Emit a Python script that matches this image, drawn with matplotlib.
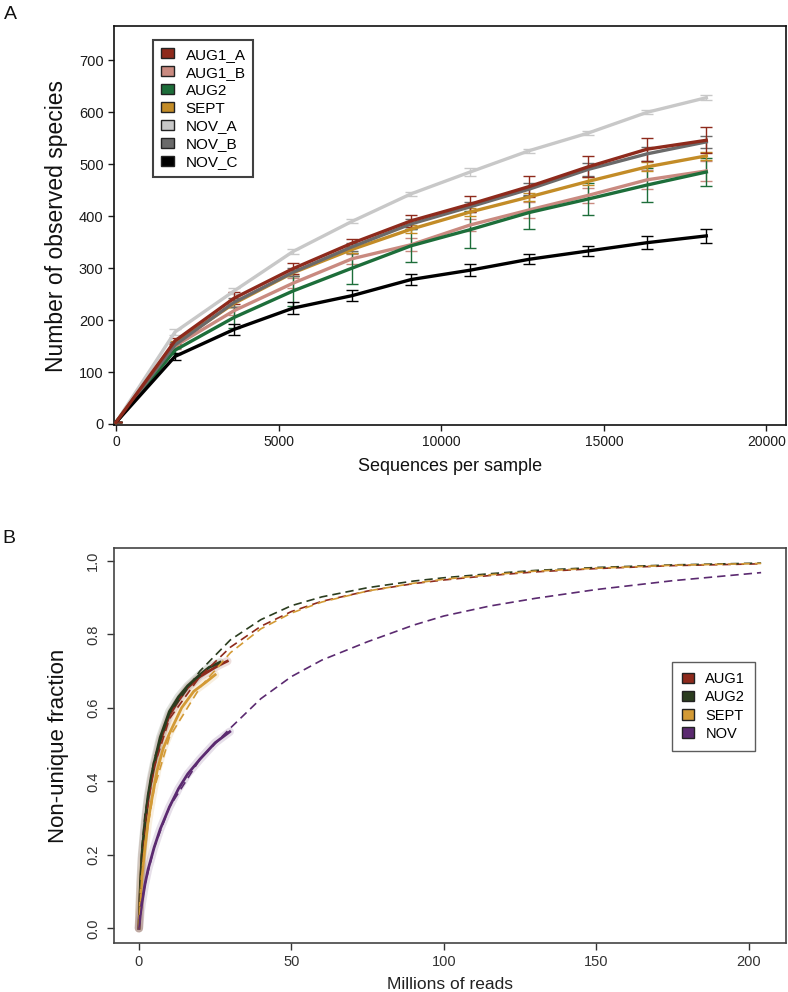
import matplotlib
matplotlib.use("Agg")
import matplotlib.pyplot as plt
from matplotlib.patches import Patch

plt.rcParams['font.family'] = ['Liberation Sans', 'DejaVu Sans']

# ---------------- Panel A data ----------------
depth = [0, 1815, 3630, 5445, 7260, 9075, 10890, 12705, 14520, 16335, 18150]
series_names = ['AUG1_A', 'AUG1_B', 'AUG2', 'SEPT', 'NOV_A', 'NOV_B', 'NOV_C']
series_colors = ['#8e2a1c', '#c98a80', '#1d6e3a', '#c38c27', '#c8c8c8', '#6a6a6a', '#000000']

aug1_a = [3, 160, 242, 299, 348, 391, 423, 457, 495, 529, 546]
aug1_b = [3, 150, 218, 271, 318, 345, 383, 412, 440, 470, 487]
aug2 = [3, 142, 205, 256, 300, 343, 374, 407, 433, 460, 485]
sept = [3, 155, 232, 291, 336, 375, 408, 437, 467, 495, 516]
nov_a = [3, 177, 256, 332, 390, 443, 485, 526, 560, 600, 628]
nov_b = [3, 152, 234, 292, 341, 385, 418, 452, 490, 520, 543]
nov_c = [3, 130, 182, 223, 247, 278, 296, 317, 333, 349, 362]

err_aug1_a = [0, 6, 12, 10, 8, 12, 15, 20, 20, 22, 25]
err_aug1_b = [0, 6, 8, 10, 10, 12, 12, 15, 15, 18, 20]
err_aug2 = [0, 8, 20, 28, 30, 32, 35, 32, 30, 32, 27]
err_sept = [0, 5, 6, 6, 7, 8, 8, 8, 8, 9, 8]
err_nov_a = [0, 5, 5, 5, 4, 4, 8, 4, 4, 4, 5]
err_nov_b = [0, 6, 8, 8, 8, 10, 10, 12, 12, 14, 12]
err_nov_c = [0, 6, 10, 12, 10, 10, 12, 10, 10, 13, 13]

# ---------------- Panel B data ----------------
groups = ['AUG1', 'AUG2', 'SEPT', 'NOV']
group_colors = ['#8e2a1c', '#2b3d1f', '#d39a35', '#5b2a70']

# observed (solid) curves
obs_aug1_x = [0, 0.5, 1, 2, 3, 4, 5, 7, 10, 13, 16, 20, 23, 26, 29]
obs_aug1_y = [0, 0.11, 0.19, 0.28, 0.35, 0.40, 0.44, 0.51, 0.58, 0.62, 0.655, 0.685, 0.70, 0.715, 0.727]
obs_aug2_x = [0, 0.5, 1, 2, 3, 4, 5, 7, 10, 13, 16, 20, 23, 26.6]
obs_aug2_y = [0, 0.12, 0.20, 0.29, 0.36, 0.41, 0.45, 0.52, 0.59, 0.63, 0.66, 0.69, 0.71, 0.724]
obs_sept_x = [0, 0.5, 1, 2, 3, 4, 6, 8, 10, 14, 18, 22, 25]
obs_sept_y = [0, 0.08, 0.14, 0.22, 0.29, 0.34, 0.43, 0.49, 0.53, 0.60, 0.645, 0.67, 0.69]
obs_nov_x = [0, 0.5, 1, 2, 3, 5, 7, 10, 13, 16, 20, 25, 29.8]
obs_nov_y = [0, 0.04, 0.07, 0.12, 0.16, 0.22, 0.27, 0.33, 0.38, 0.42, 0.46, 0.505, 0.535]

# extrapolated (dashed) curves
ext_x = [0, 1, 2, 5, 10, 20, 30, 40, 50, 60, 75, 90, 100, 115, 130, 150, 175, 204]
ext_aug1 = [0, 0.20, 0.29, 0.44, 0.57, 0.685, 0.765, 0.822, 0.862, 0.89, 0.918, 0.938, 0.948, 0.96, 0.97, 0.979, 0.987, 0.992]
ext_aug2 = [0, 0.22, 0.31, 0.46, 0.585, 0.70, 0.785, 0.84, 0.878, 0.902, 0.927, 0.945, 0.954, 0.965, 0.974, 0.982, 0.989, 0.994]
ext_sept = [0, 0.15, 0.23, 0.38, 0.52, 0.655, 0.75, 0.815, 0.858, 0.888, 0.918, 0.939, 0.95, 0.962, 0.972, 0.98, 0.988, 0.993]
ext_nov = [0, 0.07, 0.12, 0.22, 0.33, 0.46, 0.545, 0.625, 0.685, 0.73, 0.78, 0.825, 0.85, 0.877, 0.898, 0.922, 0.946, 0.968]

fig = plt.figure(figsize=(7.88, 9.92), dpi=100)
W, H = 788, 992

# ---------------- Panel A ----------------
axA = fig.add_axes([114 / W, 1 - 425 / H, (786 - 114) / W, (425 - 26) / H])
valsA = [aug1_a, aug1_b, aug2, sept, nov_a, nov_b, nov_c]
errsA = [err_aug1_a, err_aug1_b, err_aug2, err_sept, err_nov_a, err_nov_b, err_nov_c]
draw_order = [4, 1, 2, 3, 5, 6, 0]
for i in draw_order:
    axA.errorbar(depth, valsA[i], yerr=errsA[i], color=series_colors[i], lw=2.4,
                 elinewidth=1.0, capsize=4.5, capthick=1.0, zorder=3)
axA.set_xlim(-60, 20600)
axA.set_ylim(-2, 766)
axA.set_xticks([0, 5000, 10000, 15000, 20000])
axA.set_yticks([0, 100, 200, 300, 400, 500, 600, 700])
axA.tick_params(direction='out', length=4, width=1, labelsize=10, colors='#1a1a1a')
axA.tick_params(axis='y', labelsize=10.5)
for s in axA.spines.values():
    s.set_linewidth(1.2)
    s.set_color('#111111')
axA.set_xlabel('Sequences per sample', fontsize=13, color='#111111', labelpad=6)
axA.set_ylabel('Number of observed species', fontsize=16.5, color='#111111', labelpad=8)
handlesA = [Patch(facecolor=c, edgecolor='#222222', linewidth=1.0) for c in series_colors]
legA = axA.legend(handlesA, series_names, loc='upper left', bbox_to_anchor=(0.058, 0.965),
                  borderaxespad=0, fontsize=11, frameon=True, fancybox=False,
                  edgecolor='#111111', handlelength=0.9, handleheight=0.65,
                  handletextpad=0.75, labelspacing=0.26, borderpad=0.5)
legA.get_frame().set_linewidth(1.5)

fig.text(4 / W, 1 - 6 / H, 'A', fontsize=14, va='top', ha='left', color='#111111')

# ---------------- Panel B ----------------
axB = fig.add_axes([114 / W, 1 - 943 / H, (786 - 114) / W, (943 - 548) / H])
obs_sets = [(obs_aug1_x, obs_aug1_y), (obs_aug2_x, obs_aug2_y),
            (obs_sept_x, obs_sept_y), (obs_nov_x, obs_nov_y)]
ext_sets = [ext_aug1, ext_aug2, ext_sept, ext_nov]
for (ox, oy), ey, c in zip(obs_sets, ext_sets, group_colors):
    axB.plot(ox, oy, color=c, lw=6, alpha=0.15, solid_capstyle='round', zorder=2)
    axB.plot(ox, oy, color=c, lw=2.0, zorder=3)
    axB.plot(ext_x, ey, color=c, lw=1.2, ls=(0, (5, 3)), zorder=4)
axB.set_xlim(-8.16, 212.16)
axB.set_ylim(-0.04, 1.035)
axB.set_xticks([0, 50, 100, 150, 200])
axB.set_yticks([0.0, 0.2, 0.4, 0.6, 0.8, 1.0])
axB.set_yticklabels(['0.0', '0.2', '0.4', '0.6', '0.8', '1.0'], rotation=90, va='center')
axB.tick_params(direction='out', length=5, width=1, labelsize=10.5, colors='#333333')
axB.tick_params(axis='y', pad=5)
for s in axB.spines.values():
    s.set_linewidth(1.2)
    s.set_color('#444444')
axB.set_xlabel('Millions of reads', fontsize=12.5, color='#222222', labelpad=6)
axB.set_ylabel('Non-unique fraction', fontsize=16, color='#111111', labelpad=12)
handlesB = [Patch(facecolor=c, edgecolor='#222222', linewidth=1.0) for c in group_colors]
legB = axB.legend(handlesB, groups, loc='upper left', bbox_to_anchor=(0.83, 0.711),
                  borderaxespad=0, fontsize=10.5, frameon=True, fancybox=False,
                  edgecolor='#333333', handlelength=0.8, handleheight=0.7,
                  handletextpad=0.8, labelspacing=0.28, borderpad=0.7)
legB.get_frame().set_linewidth(1.0)

fig.text(2 / W, 1 - 530 / H, 'B', fontsize=14, va='top', ha='left', color='#111111')

fig.savefig('out.png', dpi=100)
